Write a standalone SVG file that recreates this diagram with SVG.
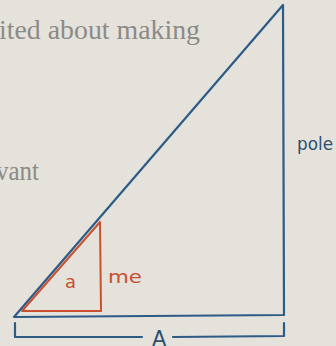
<svg xmlns="http://www.w3.org/2000/svg" width="336" height="346" viewBox="0 0 336 346">
<style>
.prose{font-family:"Liberation Serif","DejaVu Serif",serif;font-size:28px;fill:#8c8a86}
.blue{fill:none;stroke:#2d5b86;stroke-width:2.2;stroke-linejoin:round;stroke-linecap:round}
.red{fill:none;stroke:#c8502e;stroke-width:2;stroke-linejoin:round;stroke-linecap:round}
.hb{font-family:"DejaVu Sans","Noto Sans",sans-serif;fill:#2d4f6e}
.hr{font-family:"DejaVu Sans","Noto Sans",sans-serif;fill:#c8502e}
</style>
<rect width="336" height="346" fill="#e5e2dc"/>
<text class="prose" x="-1" y="39" textLength="201" lengthAdjust="spacingAndGlyphs">ited about making</text>
<text class="prose" x="-4" y="180" textLength="43" lengthAdjust="spacingAndGlyphs">vant</text>
<g id="big-triangle">
<path class="blue" d="M14,317 L283,5 L284,315 Z"/>
</g>
<g id="small-triangle">
<path class="red" d="M22,311 L100,222 L101,311 Z"/>
</g>
<g id="labels">
<text class="hb" x="297" y="150" font-size="17" textLength="36" lengthAdjust="spacingAndGlyphs">pole</text>
<text class="hr" x="65" y="288" font-size="18">a</text>
<text class="hr" x="108" y="283" font-size="17" textLength="34" lengthAdjust="spacingAndGlyphs">me</text>
<text class="hb" x="152" y="346" font-size="21" fill="#2d5b86">A</text>
</g>
<g id="connectors">
<path class="blue" d="M15,323 L15,337 L142,337"/>
<path class="blue" d="M173,337 L284,336 L284,323"/>
</g>
</svg>
